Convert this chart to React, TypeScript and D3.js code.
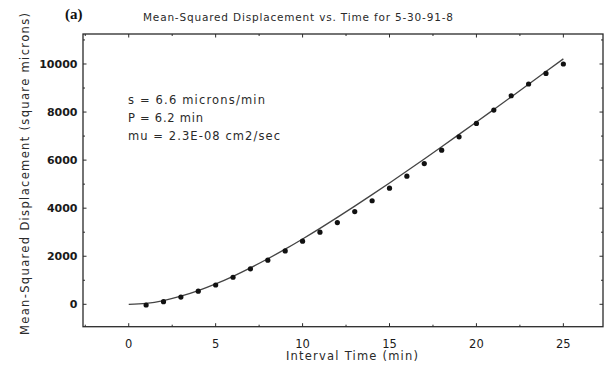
import React from "react";
import * as d3 from "d3";

const times = [1, 2, 3, 4, 5, 6, 7, 8, 9, 10, 11, 12, 13, 14, 15, 16, 17, 18, 19, 20, 21, 22, 23, 24, 25];
const msd = [-29, 108, 300, 545, 804, 1125, 1478, 1838, 2221, 2625, 3000, 3400, 3858, 4310, 4833, 5333, 5858, 6415, 6971, 7525, 8083, 8679, 9167, 9608, 10000];
const fitTimes = [0, 1, 2, 3, 4, 5, 6, 7, 8, 9, 10, 11, 12, 13, 14, 15, 16, 17, 18, 19, 20, 21, 22, 23, 24, 25];
const fitValues = [0, 41, 157, 336, 568, 847, 1164, 1515, 1894, 2296, 2720, 3160, 3616, 4084, 4563, 5051, 5546, 6049, 6557, 7070, 7586, 8107, 8630, 9156, 9684, 10213];
const xTicks = [0, 5, 10, 15, 20, 25];
const xMinor = [-2.5, 2.5, 7.5, 12.5, 17.5, 22.5];
const yTicks = [0, 2000, 4000, 6000, 8000, 10000];
const yMinor = [1000, 3000, 5000, 7000, 9000, 11000];
const annotations = ["s = 6.6 microns/min", "P = 6.2 min", "mu = 2.3E-08 cm2/sec"];
const annotationWidths = [137, 75, 152];
const title = "Mean-Squared Displacement vs. Time for 5-30-91-8";
const xLabel = "Interval Time (min)";
const yLabel = "Mean-Squared Displacement (square microns)";

export default function App() {
  const L = 83, R = 603, T = 34, B = 326.7;
  const x = d3.scaleLinear().domain([-2.63, 27.28]).range([L, R]);
  const y = d3.scaleLinear().domain([-932, 11248]).range([B, T]);
  const line = d3
    .line<number>()
    .x((_, i) => x(fitTimes[i]))
    .y((d) => y(d))
    .curve(d3.curveMonotoneX);
  const font = "'DejaVu Sans', sans-serif";
  const ink = "#2a2a2a";
  return (
    <svg width={604} height={365} style={{ position: "absolute", left: 0, top: 0, background: "#fff" }}>
      <text x={65} y={19} fontFamily="'Liberation Serif', serif" fontWeight="bold" fontSize={15} fill="#111">(a)</text>
      <text x={298} y={21} textAnchor="middle" fontFamily={font} fontSize={10.5} fill={ink} textLength={310} lengthAdjust="spacing">{title}</text>
      <rect x={L} y={T} width={R - L} height={B - T} fill="none" stroke={ink} strokeWidth={1.3} />
      {xTicks.map((t) => (
        <g key={"xt" + t}>
          <line x1={x(t)} x2={x(t)} y1={B} y2={B - 3.5} stroke={ink} strokeWidth={1} />
          <line x1={x(t)} x2={x(t)} y1={T} y2={T + 3.5} stroke={ink} strokeWidth={1} />
          <text x={x(t)} y={347.5} textAnchor="middle" fontFamily={font} fontSize={11.5} fill="#1a1a1a">{t}</text>
        </g>
      ))}
      {xMinor.map((t) => (
        <g key={"xm" + t}>
          <line x1={x(t)} x2={x(t)} y1={B} y2={B - 2} stroke={ink} strokeWidth={1} />
          <line x1={x(t)} x2={x(t)} y1={T} y2={T + 2} stroke={ink} strokeWidth={1} />
        </g>
      ))}
      {yTicks.map((v) => (
        <g key={"yt" + v}>
          <line x1={L} x2={L + 3.5} y1={y(v)} y2={y(v)} stroke={ink} strokeWidth={1} />
          <line x1={R} x2={R - 3.5} y1={y(v)} y2={y(v)} stroke={ink} strokeWidth={1} />
          <text x={77.5} y={y(v) + 4} textAnchor="end" fontFamily={font} fontSize={11} fontWeight={600} fill="#1a1a1a">{v}</text>
        </g>
      ))}
      {yMinor.map((v) => (
        <g key={"ym" + v}>
          <line x1={L} x2={L + 2} y1={y(v)} y2={y(v)} stroke={ink} strokeWidth={1} />
          <line x1={R} x2={R - 2} y1={y(v)} y2={y(v)} stroke={ink} strokeWidth={1} />
        </g>
      ))}
      <text x={352} y={360} textAnchor="middle" fontFamily={font} fontSize={11.5} fill={ink} textLength={132} lengthAdjust="spacing">{xLabel}</text>
      <text transform="translate(29,174) rotate(-90)" textAnchor="middle" fontFamily={font} fontSize={11.5} fill={ink} textLength={322} lengthAdjust="spacing">{yLabel}</text>
      {annotations.map((a, i) => (
        <text key={a} x={128} y={104 + i * 18} fontFamily={font} fontSize={11.5} fill={ink} textLength={annotationWidths[i]} lengthAdjust="spacing">{a}</text>
      ))}
      <path d={line(fitValues) || ""} fill="none" stroke="#444" strokeWidth={1.3} />
      {msd.map((v, i) => (
        <circle key={"p" + i} cx={x(times[i])} cy={y(v)} r={2.6} fill="#111" />
      ))}
    </svg>
  );
}
